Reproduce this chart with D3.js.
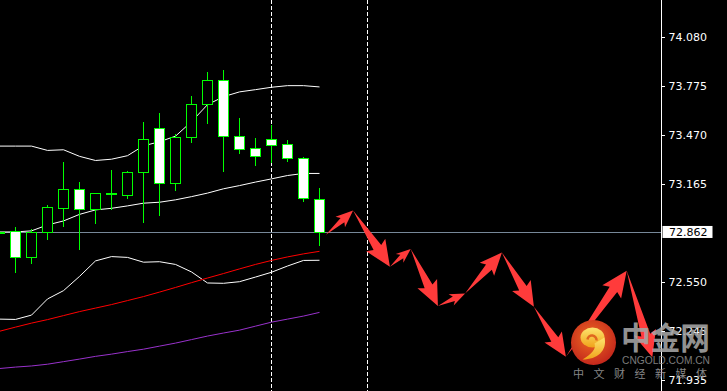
<!DOCTYPE html>
<html>
<head>
<meta charset="utf-8">
<script src="https://cdn.jsdelivr.net/npm/d3@7"></script>
<style>
  html, body { margin: 0; padding: 0; background: #000; }
  svg { display: block; }
</style>
</head>
<body>
<svg id="chart" width="727" height="391"></svg>
<script>
// candles, bar 0 is cut off at the left edge
const open  = [72.862, 72.867, 72.708, 72.864, 73.015, 73.130, 73.008, 73.103, 73.096, 73.234, 73.512,
               73.167, 73.453, 73.662, 73.813, 73.462, 73.387, 73.443, 73.412, 73.324, 73.067];
const high  = [72.866, 72.896, 72.879, 73.032, 73.301, 73.176, 73.107, 73.251, 73.246, 73.552, 73.608,
               73.476, 73.714, 73.863, 73.877, 73.575, 73.451, 73.528, 73.439, 73.329, 73.138];
const low   = [72.855, 72.614, 72.670, 72.818, 72.902, 72.758, 72.921, 73.008, 73.077, 72.927, 72.971,
               73.127, 73.422, 73.543, 73.246, 73.353, 73.278, 73.301, 73.303, 73.058, 72.783];
const close = [72.858, 72.708, 72.862, 73.019, 73.130, 73.008, 73.105, 73.101, 73.236, 73.443, 73.171,
               73.456, 73.662, 73.813, 73.462, 73.380, 73.337, 73.406, 73.322, 73.074, 72.862];

// bollinger bands
const bbUpper  = [73.399, 73.399, 73.399, 73.372, 73.376, 73.335, 73.309, 73.317, 73.339, 73.401, 73.426,
                  73.461, 73.552, 73.658, 73.708, 73.738, 73.752, 73.767, 73.777, 73.777, 73.769];
const bbMiddle = [72.862, 72.862, 72.869, 72.906, 72.931, 72.972, 73.000, 73.010, 73.025, 73.042, 73.048,
                  73.063, 73.083, 73.105, 73.132, 73.152, 73.174, 73.194, 73.215, 73.228, 73.228];
const bbLower  = [72.317, 72.315, 72.342, 72.443, 72.495, 72.584, 72.681, 72.708, 72.703, 72.673, 72.676,
                  72.659, 72.612, 72.543, 72.541, 72.551, 72.580, 72.610, 72.649, 72.684, 72.685];

// moving averages
const maRed    = [72.241, 72.267, 72.292, 72.314, 72.339, 72.364, 72.386, 72.408, 72.433, 72.458, 72.486,
                  72.515, 72.545, 72.574, 72.602, 72.631, 72.659, 72.684, 72.706, 72.725, 72.741];
const maPurple = [72.008, 72.017, 72.024, 72.035, 72.051, 72.067, 72.084, 72.098, 72.114, 72.129, 72.148,
                  72.167, 72.189, 72.211, 72.230, 72.248, 72.273, 72.298, 72.317, 72.336, 72.359];

// period separators (bar index)
const separators = [17, 23];

// forecast path drawn as arrows (bar index, price)
const arrowX = [20.4, 22.1, 24.4, 25.7, 27.4, 29.1, 31.4, 33.4, 35.4, 39.2, 40.8];
const arrowY = [72.844, 72.996, 72.645, 72.756, 72.399, 72.477, 72.733, 72.394, 72.081, 72.620, 72.079];

const tickValues = [74.080, 73.775, 73.470, 73.165, 72.550, 72.245, 71.935];
const lastPrice = 72.862;

const svg = d3.select("#chart");
const width = +svg.attr("width");
const height = +svg.attr("height");
const axisX = 661.5;

const x = d3.scaleLinear().domain([0, 40]).range([-0.5, 639.5]);
const y = d3.scaleLinear().domain([71.935, 74.080]).range([380.2, 37.2]);
const snap = v => Math.round(v) + 0.5;

svg.append("rect").attr("width", width).attr("height", height).attr("fill", "#000");

const plot = svg.append("g");

// current price line
plot.append("line")
    .attr("x1", 0).attr("x2", axisX)
    .attr("y1", snap(y(lastPrice))).attr("y2", snap(y(lastPrice)))
    .attr("stroke", "#778899").attr("stroke-width", 1);

// separators
plot.selectAll(".sep")
    .data(separators)
    .enter().append("line")
    .attr("class", "sep")
    .attr("x1", d => x(d)).attr("x2", d => x(d))
    .attr("y1", 0).attr("y2", height)
    .attr("stroke", "#fff").attr("stroke-width", 1)
    .attr("stroke-dasharray", "4,2");

const line = d3.line()
    .x((d, i) => x(i))
    .y(d => y(d));

const series = [
    { values: bbUpper, color: "#ffffff" },
    { values: bbMiddle, color: "#ffffff" },
    { values: bbLower, color: "#ffffff" },
    { values: maRed, color: "#ff0000" },
    { values: maPurple, color: "#9932cc" }
];

plot.selectAll(".ind")
    .data(series)
    .enter().append("path")
    .attr("class", "ind")
    .attr("fill", "none")
    .attr("stroke", d => d.color)
    .attr("stroke-width", 1)
    .attr("d", d => line(d.values));

// candles
const candles = plot.selectAll(".candle")
    .data(open.map((o, i) => ({ i, o, h: high[i], l: low[i], c: close[i] })))
    .enter().append("g")
    .attr("class", "candle")
    .attr("shape-rendering", "crispEdges");

candles.append("line")
    .attr("x1", d => x(d.i)).attr("x2", d => x(d.i))
    .attr("y1", d => Math.round(y(d.h))).attr("y2", d => Math.round(y(d.l)) + 1)
    .attr("stroke", "#00ff00").attr("stroke-width", 1);

candles.append("rect")
    .attr("x", d => x(d.i) - 5)
    .attr("width", 10)
    .attr("y", d => snap(y(Math.max(d.o, d.c))))
    .attr("height", d => Math.max(1, Math.round(y(Math.min(d.o, d.c))) - Math.round(y(Math.max(d.o, d.c)))))
    .attr("fill", d => d.c >= d.o ? "#000" : "#fff")
    .attr("stroke", "#00ff00").attr("stroke-width", 1);

// arrows
function arrowShape(x1, y1, x2, y2) {
    const dx = x2 - x1, dy = y2 - y1, len = Math.hypot(dx, dy);
    const ux = dx / len, uy = dy / len, px = -uy, py = ux;
    const head = Math.min(len * 0.28 + 4, 23);
    const hw = head * 0.5, sw = head * 0.2;
    const bx = x2 - ux * head, by = y2 - uy * head;
    return [
        [x1, y1],
        [bx + px * sw, by + py * sw],
        [bx + px * hw - ux * 3, by + py * hw - uy * 3],
        [x2, y2],
        [bx - px * hw - ux * 3, by - py * hw - uy * 3],
        [bx - px * sw, by - py * sw]
    ];
}

const arrowPts = arrowX.map((d, i) => [x(d), y(arrowY[i])]);
plot.selectAll(".arrow")
    .data(d3.pairs(arrowPts))
    .enter().append("polygon")
    .attr("class", "arrow")
    .attr("points", d => arrowShape(d[0][0], d[0][1], d[1][0], d[1][1]).join(" "))
    .attr("fill", "#ff3b3b");

// price axis
svg.append("line")
    .attr("x1", axisX).attr("x2", axisX)
    .attr("y1", 0).attr("y2", height)
    .attr("stroke", "#fff").attr("stroke-width", 1);

const axis = svg.append("g")
    .attr("transform", "translate(" + axisX + ",0)")
    .call(d3.axisRight(y).tickValues(tickValues).tickSize(3).tickPadding(4).tickFormat(d3.format(".3f")));
axis.select(".domain").remove();
axis.selectAll(".tick line").attr("stroke", "#fff").attr("shape-rendering", "crispEdges");
axis.selectAll(".tick text")
    .attr("fill", "#fff")
    .style("font-family", "'DejaVu Sans', sans-serif")
    .style("font-size", "11px");

const priceTag = svg.append("g").attr("transform", "translate(" + (axisX + 1) + "," + y(lastPrice) + ")");
priceTag.append("rect")
    .attr("x", 0).attr("y", -6).attr("width", 50).attr("height", 12)
    .attr("fill", "#fff");
priceTag.append("text")
    .attr("x", 6.5).attr("y", 0).attr("dy", "0.36em")
    .attr("fill", "#000")
    .style("font-family", "'DejaVu Sans', sans-serif")
    .style("font-size", "11px")
    .text(d3.format(".3f")(lastPrice));

// watermark
const defs = svg.append("defs");
const rg = defs.append("radialGradient").attr("id", "logoBg").attr("cx", "45%").attr("cy", "40%").attr("r", "60%");
rg.append("stop").attr("offset", "0%").attr("stop-color", "#ee6a22");
rg.append("stop").attr("offset", "100%").attr("stop-color", "#c4281c");
const yg = defs.append("linearGradient").attr("id", "logoSwirl").attr("x1", 0).attr("y1", 0).attr("x2", 0).attr("y2", 1);
yg.append("stop").attr("offset", "0%").attr("stop-color", "#fde46e");
yg.append("stop").attr("offset", "100%").attr("stop-color", "#f0a21a");

const logo = svg.append("g").attr("transform", "translate(593.5,342.5)");
logo.append("circle").attr("r", 22.5).attr("fill", "url(#logoBg)");
logo.append("ellipse").attr("cx", -1).attr("cy", -5).attr("rx", 12).attr("ry", 10).attr("fill", "url(#logoSwirl)");
logo.append("path")
    .attr("d", "M 11,-5 C 14,8 4,17 -11,17 C -2,12 3,6 1,1 Z")
    .attr("fill", "url(#logoSwirl)");
logo.append("path")
    .attr("d", "M -6,-3 A 4.5,4.5 0 1,1 3,-2")
    .attr("fill", "none").attr("stroke", "#e0661e").attr("stroke-width", 2.5);

const mark = svg.append("g").attr("opacity", 0.88);
mark.append("text")
    .attr("x", 621).attr("y", 349)
    .attr("fill", "#a6a6a6")
    .attr("textLength", 89).attr("lengthAdjust", "spacingAndGlyphs")
    .style("font-family", "'Noto Sans CJK SC', sans-serif")
    .style("font-weight", "700")
    .style("font-size", "31px")
    .text("中金网");
mark.append("text")
    .attr("x", 622).attr("y", 363.5)
    .attr("fill", "#8c8c8c")
    .attr("textLength", 88).attr("lengthAdjust", "spacingAndGlyphs")
    .style("font-family", "'Liberation Sans', sans-serif")
    .style("font-size", "11px")
    .text("CNGOLD.COM.CN");
mark.append("text")
    .attr("x", 573).attr("y", 378)
    .attr("fill", "#9a9a9a")
    .attr("textLength", 134).attr("lengthAdjust", "spacing")
    .style("font-family", "'Noto Sans CJK SC', sans-serif")
    .style("font-size", "11px")
    .text("中文财经新媒体");
</script>
</body>
</html>
